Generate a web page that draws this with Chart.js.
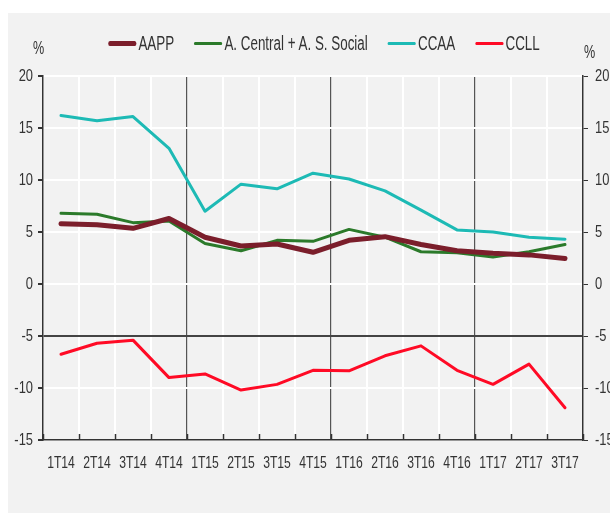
<!DOCTYPE html>
<html>
<head>
<meta charset="utf-8">
<script src="https://cdn.jsdelivr.net/npm/chart.js@4.4.1/dist/chart.umd.min.js"></script>
<style>
  html, body { margin: 0; padding: 0; background: #ffffff; }
  body { width: 610px; height: 515px; position: relative; overflow: hidden;
         font-family: 'Liberation Sans', Arial, sans-serif; color: #333; }
  #panel { position: absolute; left: 8px; top: 13px; width: 602px; height: 500px; background: #f2f2f2; }
  #panel canvas { position: absolute; left: 0; top: 0; }
  /* the original uses a condensed face; squeeze Liberation Sans instead */
  #legend { position: absolute; left: 323.5px; top: 31px; width: max-content; display: flex; white-space: nowrap;
            font-size: 20px; line-height: 24px; transform: scaleX(0.67) translateX(-50%); transform-origin: 0 0; }
  .item { display: flex; align-items: center; margin: 0 15px; flex-shrink: 0; }
  .swatch { display: inline-block; width: 42px; margin-right: 3px; border-radius: 3px; }
  .unit { position: absolute; font-size: 18px; transform: scaleX(0.7); transform-origin: 0 0; }
</style>
</head>
<body>
<div id="panel"><canvas id="chart" width="602" height="500"></canvas></div>
<div id="legend"></div>
<div class="unit" style="left:33px; top:38px;">%</div>
<div class="unit" style="left:584px; top:42px;">%</div>
<script>
// quarters
const labels = ['1T14', '2T14', '3T14', '4T14', '1T15', '2T15', '3T15', '4T15',
                '1T16', '2T16', '3T16', '4T16', '1T17', '2T17', '3T17']

// series (%)
const aapp    = [5.8, 5.7, 5.35, 6.3, 4.5, 3.65, 3.85, 3.05, 4.2, 4.55, 3.8, 3.2, 2.95, 2.8, 2.45]
const central = [6.8, 6.7, 5.9, 6.05, 3.9, 3.2, 4.2, 4.1, 5.25, 4.5, 3.1, 3.0, 2.6, 3.1, 3.8]
const ccaa    = [16.2, 15.7, 16.1, 13.05, 7.0, 9.6, 9.15, 10.65, 10.1, 8.95, 7.1, 5.2, 5.0, 4.5, 4.3]
const ccll    = [-6.75, -5.7, -5.4, -9.0, -8.65, -10.2, -9.65, -8.3, -8.35, -6.9, -5.95, -8.3, -9.65, -7.7, -11.9]

// y ticks
const yMin = -15
const yMax = 20
const yStep = 5

const seriesNames = ['AAPP', 'A. Central + A. S. Social', 'CCAA', 'CCLL']
const seriesColors = ['#7b1e2b', '#2b7a2a', '#1dbab5', '#ff0a25']
const seriesWidths = [5, 3, 3, 3]
const seriesData = [aapp, central, ccaa, ccll]

Chart.defaults.font.family = "'Liberation Sans', Arial, sans-serif"
Chart.defaults.color = '#333'

const canvas = document.getElementById('chart')

// no condensed font installed: draw canvas text horizontally squeezed around its anchor
const ctx2d = canvas.getContext('2d')
const baseFillText = ctx2d.fillText.bind(ctx2d)
ctx2d.fillText = function(text, x, y) {
  this.save()
  this.translate(x, y)
  this.scale(0.76, 1)
  baseFillText(text, 0, 0)
  this.restore()
}

// x axis ticks point inwards (upwards) in the original
const innerTicks = {
  id: 'innerTicks',
  afterDraw(chart) {
    const x = chart.scales.x
    const ctx = chart.ctx
    const bottom = chart.chartArea.bottom
    ctx.save()
    ctx.strokeStyle = '#333'
    ctx.lineWidth = 1.5
    for (let i = 0; i <= labels.length; i++) {
      const px = Math.round(x.getPixelForValue(i - 0.5)) + 0.5
      ctx.beginPath()
      ctx.moveTo(px, bottom)
      ctx.lineTo(px, bottom - 6)
      ctx.stroke()
    }
    ctx.restore()
  }
}

const yearBreaks = [4, 8, 12]

new Chart(canvas, {
  type: 'line',
  data: {
    labels: labels,
    datasets: seriesData.map((d, i) => ({
      label: seriesNames[i],
      data: d,
      borderColor: seriesColors[i],
      backgroundColor: seriesColors[i],
      borderWidth: seriesWidths[i],
      pointRadius: 0,
      tension: 0,
      borderJoinStyle: 'round',
      borderCapStyle: 'round'
    }))
  },
  options: {
    responsive: false,
    animation: false,
    layout: { padding: { top: 63, left: 0, right: 0, bottom: 0 } },
    plugins: {
      legend: { display: false },
      tooltip: { enabled: false }
    },
    scales: {
      x: {
        offset: true,
        grid: {
          offset: true,
          drawTicks: false,
          color: ctx => yearBreaks.includes(ctx.index) ? '#555' : '#ffffff',
          lineWidth: ctx => yearBreaks.includes(ctx.index) ? 1.2 : 2
        },
        border: { display: true, color: '#333', width: 1.5 },
        ticks: { padding: 14, font: { size: 16 }, color: '#333', maxRotation: 0, autoSkip: false },
        afterFit: scale => { scale.height = 73 }
      },
      y: {
        position: 'left',
        min: yMin,
        max: yMax,
        ticks: { stepSize: yStep, padding: 5, font: { size: 17 }, color: '#333' },
        grid: {
          color: ctx => ctx.tick && ctx.tick.value === -5 ? '#444' : '#ffffff',
          lineWidth: 2,
          tickColor: '#333',
          tickLength: 5
        },
        border: { display: true, color: '#333', width: 1.5 },
        afterFit: scale => { scale.width = 35 }
      },
      y2: {
        position: 'right',
        min: yMin,
        max: yMax,
        ticks: { stepSize: yStep, padding: 7, font: { size: 17 }, color: '#333' },
        grid: { drawOnChartArea: false, tickColor: '#333', tickLength: 5 },
        border: { display: true, color: '#333', width: 1.5 },
        afterFit: scale => { scale.width = 27 }
      }
    }
  },
  plugins: [innerTicks]
})

// html legend, built from the series
const legend = document.getElementById('legend')
seriesNames.forEach((name, i) => {
  const item = document.createElement('div')
  item.className = 'item'
  const sw = document.createElement('span')
  sw.className = 'swatch'
  sw.style.height = seriesWidths[i] + 'px'
  sw.style.background = seriesColors[i]
  const txt = document.createElement('span')
  txt.textContent = name
  item.appendChild(sw)
  item.appendChild(txt)
  legend.appendChild(item)
})
</script>
</body>
</html>
